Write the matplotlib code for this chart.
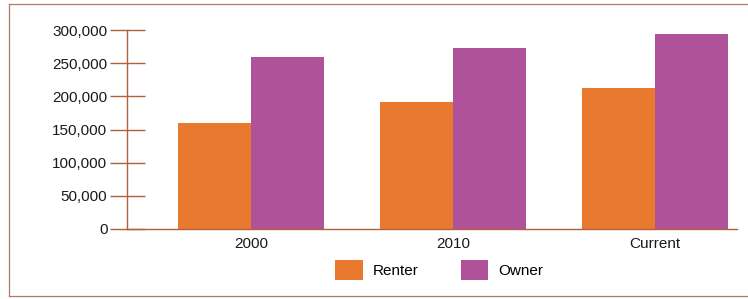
import matplotlib.pyplot as plt
import numpy as np
from matplotlib.lines import Line2D

plt.rcParams['font.family'] = ['Liberation Sans', 'DejaVu Sans']

# values
periods = ['2000', '2010', 'Current']
renter = [160000, 192000, 212500]
owner = [259000, 272500, 293500]
yticks = [0, 50000, 100000, 150000, 200000, 250000, 300000]

orange = '#e8792f'
purple = '#b0529a'
brown = '#b0603a'

fig = plt.figure(figsize=(7.48, 2.99), dpi=100)
ax = fig.add_axes([127 / 748, 1 - 229 / 299, 610 / 748, 199 / 299])

x = np.arange(len(periods))
w = 0.36
ax.bar(x - w / 2, renter, w, color=orange, label='Renter', zorder=1)
ax.bar(x + w / 2, owner, w, color=purple, label='Owner', zorder=1)

ax.set_xlim(-0.614, 2.406)
ax.set_ylim(0, 300000)
ax.set_xticks(x)
ax.set_xticklabels(periods)
ax.set_yticks(yticks)
ax.set_yticklabels([f'{v:,}' for v in yticks])

for s in ['top', 'right']:
    ax.spines[s].set_visible(False)
for s in ['left', 'bottom']:
    ax.spines[s].set_color(brown)
    ax.spines[s].set_linewidth(1.0)
    ax.spines[s].set_zorder(3)

ax.tick_params(axis='y', direction='inout', length=25.2, width=1.0,
               color=brown, labelsize=11, pad=1.5, labelcolor='#1a1a1a')
ax.tick_params(axis='x', length=0, labelsize=11, pad=6, labelcolor='#1a1a1a')

fig.legend(loc='center', bbox_to_anchor=(0.587, 0.097), ncol=2,
           frameon=False, fontsize=11, handlelength=1.83, handleheight=1.63,
           handletextpad=0.65, columnspacing=2.75)

# thin frame around the chart: left, top and bottom edges only
fx0, fx1 = 9 / 748, 1.0
fy0, fy1 = 1 - 296 / 299, 1 - 4 / 299
for xs, ys in [([fx0, fx0], [fy0, fy1]), ([fx0, fx1], [fy1, fy1]),
               ([fx0, fx1], [fy0, fy0])]:
    fig.add_artist(Line2D(xs, ys, transform=fig.transFigure,
                          color='#b07868', linewidth=0.9))

fig.savefig('out.png', dpi=100)
